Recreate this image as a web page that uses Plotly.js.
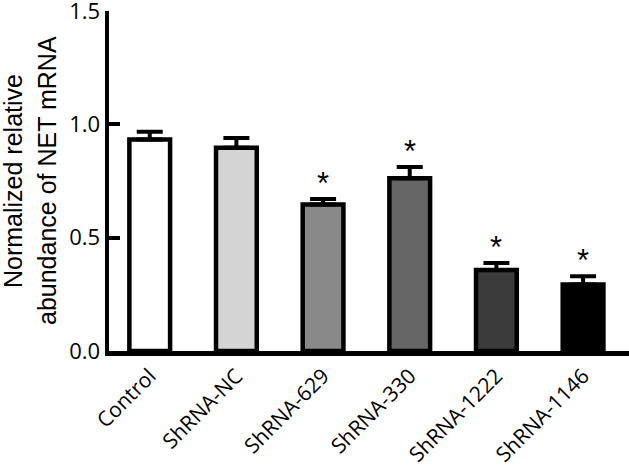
<!DOCTYPE html>
<html>
<head>
<meta charset="utf-8">
<script src="https://cdn.plot.ly/plotly-3.0.1.min.js"></script>
<style>html,body{margin:0;padding:0;background:#fff;}#chart{width:629px;height:471px;}</style>
</head>
<body>
<div id="chart"></div>
<script>
const categories = ["Control", "ShRNA-NC", "ShRNA-629", "ShRNA-330", "ShRNA-1222", "ShRNA-1146"];
const values = [0.933, 0.897, 0.646, 0.762, 0.357, 0.294];
const errors = [0.035, 0.043, 0.025, 0.050, 0.031, 0.036];
const barColors = ["#ffffff", "#d4d4d4", "#898989", "#666666", "#3b3b3b", "#000000"];
const significant = [false, false, true, true, true, true];
const yTickVals = [0, 0.5, 1.0, 1.5];
const yTitleLines = ["Normalized relative", "abundance of NET mRNA"];

const trace = {
  type: "bar",
  x: categories,
  y: values,
  width: 0.47,
  marker: {color: barColors, line: {color: "#000000", width: 4.5}},
  error_y: {type: "data", array: errors, arrayminus: errors.map(() => 0), symmetric: false,
            color: "#000000", thickness: 4, width: 13},
  hoverinfo: "none"
};

const annotations = [];
categories.forEach((c, i) => {
  if (significant[i]) {
    annotations.push({x: c, y: values[i] + errors[i], xref: "x", yref: "y", text: "*",
      showarrow: false, yanchor: "bottom", yshift: -4,
      font: {family: "Liberation Sans, Arial, sans-serif", size: 31, color: "#000"}});
  }
});
annotations.push({xref: "paper", yref: "paper", x: 0, y: 0.5, xanchor: "center", yanchor: "middle",
  xshift: -96, textangle: -90, showarrow: false, text: yTitleLines[0],
  font: {family: "Liberation Sans, Arial, sans-serif", size: 25, color: "#000"}});
annotations.push({xref: "paper", yref: "paper", x: 0, y: 0.5, xanchor: "center", yanchor: "middle",
  xshift: -62, textangle: -90, showarrow: false, text: yTitleLines[1],
  font: {family: "Liberation Sans, Arial, sans-serif", size: 25, color: "#000"}});

const layout = {
  width: 629, height: 471,
  margin: {l: 109, r: 0, t: 11, b: 120, pad: 0},
  paper_bgcolor: "#ffffff", plot_bgcolor: "#ffffff",
  showlegend: false,
  font: {family: "Open Sans, sans-serif", size: 22, color: "#000"},
  xaxis: {
    type: "category", range: [-0.47, 5.53], showline: true, linecolor: "#000", linewidth: 4.5,
    ticks: "", tickangle: -45, showgrid: false, zeroline: false, ticklabeloverflow: "allow",
    tickfont: {family: "Open Sans, sans-serif", size: 21, color: "#000"}
  },
  yaxis: {
    range: [0, 1.5005], tickvals: yTickVals, tickformat: ".1f", showline: true, linecolor: "#000", linewidth: 4.5,
    ticks: "inside", ticklen: 11, tickwidth: 4, tickcolor: "#000", showgrid: false, zeroline: false,
    ticklabeloverflow: "allow",
    tickfont: {family: "Open Sans, sans-serif", size: 22, color: "#000"}
  },
  annotations: annotations
};

Plotly.newPlot("chart", [trace], layout, {displayModeBar: false, staticPlot: true});
</script>
</body>
</html>
